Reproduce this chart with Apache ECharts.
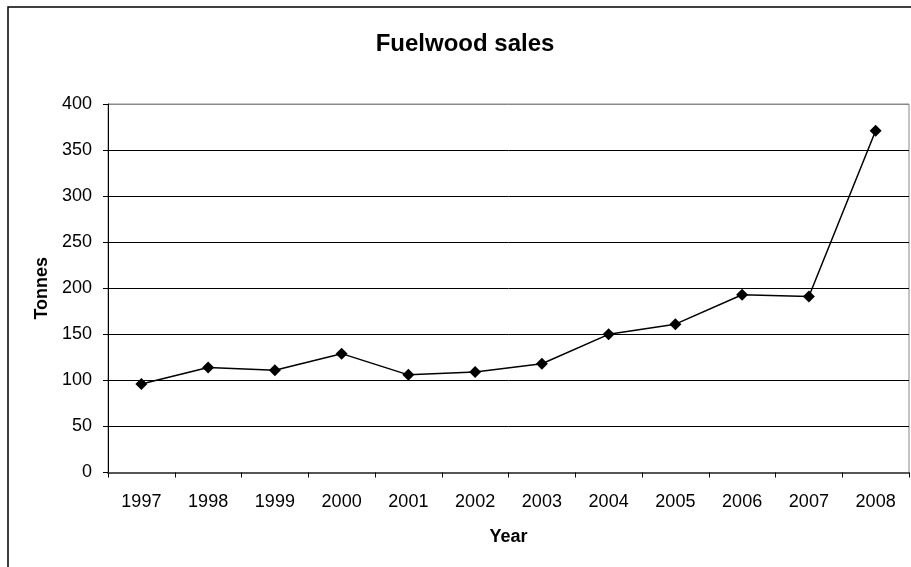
<!DOCTYPE html>
<html><head><meta charset="utf-8">
<script src="https://cdn.jsdelivr.net/npm/echarts@6/dist/echarts.min.js"></script>
<style>html,body{margin:0;padding:0;background:#fff}#c{width:911px;height:567px}</style>
</head><body><div id="c"></div>
<script>
const years = ['1997','1998','1999','2000','2001','2002','2003','2004','2005','2006','2007','2008'];
const sales = [96, 114, 111, 129, 106, 109, 118, 150, 161, 193, 191, 371];
const yTicks = {min: 0, max: 400, interval: 50};

const chart = echarts.init(document.getElementById('c'), null, {renderer: 'canvas'});
const font = 'Liberation Sans, Arial, sans-serif';
chart.setOption({
  animation: false,
  backgroundColor: '#fff',
  graphic: [{
    type: 'rect', shape: {x: 8, y: 7, width: 940, height: 600},
    style: {fill: 'none', stroke: '#000', lineWidth: 1.5}, silent: true, z: -1
  }],
  title: {
    text: 'Fuelwood sales', left: 460, top: 27, textAlign: 'center',
    textStyle: {fontFamily: font, fontSize: 24, fontWeight: 'bold', color: '#000'}
  },
  grid: {left: 108, top: 104, right: 2, bottom: 94.5, show: true, borderColor: '#888', borderWidth: 1},
  xAxis: {
    type: 'category', data: years, boundaryGap: true,
    name: 'Year', nameLocation: 'middle', nameGap: 56,
    nameTextStyle: {fontFamily: font, fontSize: 18, fontWeight: 'bold', color: '#000'},
    axisLine: {lineStyle: {color: '#555', width: 2}},
    axisTick: {show: true, length: 5, alignWithLabel: false, lineStyle: {color: '#000', width: 1}},
    axisLabel: {fontFamily: font, fontSize: 18, color: '#000', margin: 21, interval: 0},
    splitLine: {show: false}
  },
  yAxis: {
    type: 'value', min: yTicks.min, max: yTicks.max, interval: yTicks.interval,
    name: 'Tonnes', nameLocation: 'middle', nameGap: 57, nameRotate: 90,
    nameTextStyle: {fontFamily: font, fontSize: 18, fontWeight: 'bold', color: '#000'},
    axisLine: {show: true, lineStyle: {color: '#000', width: 1}},
    axisTick: {show: true, length: 5, inside: false, lineStyle: {color: '#000'}},
    axisLabel: {fontFamily: font, fontSize: 18, color: '#000', margin: 16},
    splitLine: {show: true, lineStyle: {color: ['#000','#000','#000','#000','#000','#000','#000','#000','#888'], width: 1}}
  },
  series: [{
    type: 'line', data: sales, symbol: 'diamond', symbolSize: 12,
    lineStyle: {color: '#000', width: 1.5},
    itemStyle: {color: '#000'}
  }]
});
</script></body></html>
